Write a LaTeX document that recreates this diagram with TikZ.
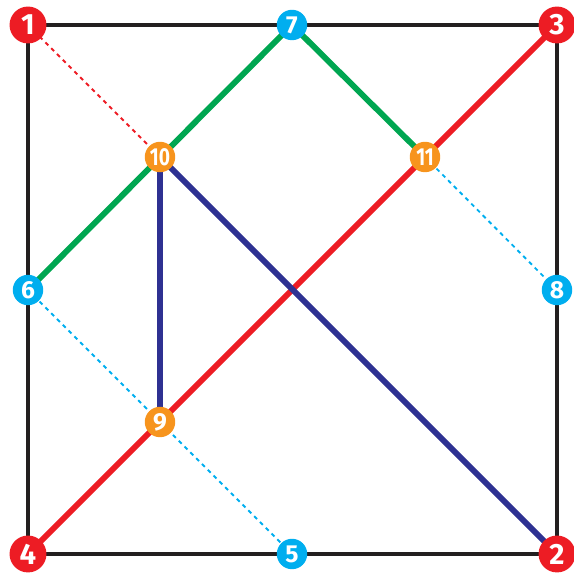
\documentclass[tikz,border=0pt]{standalone}
\usepackage{fontspec}
\setmainfont{Fira Sans}
\usepackage{xcolor}
\definecolor{ptred}{HTML}{ED1C24}
\definecolor{ptorange}{HTML}{F7941D}
\definecolor{ptcyan}{HTML}{00AEEF}
\definecolor{lngreen}{HTML}{00A651}
\definecolor{lnnavy}{HTML}{2E3192}
\definecolor{frame}{HTML}{231F20}

\begin{document}
\begin{tikzpicture}[
    x=0.03cm, y=-0.03cm,
    corner/.style={circle, fill=ptred, text=white, inner sep=0pt, minimum size=31.5pt, font=\bfseries\fontsize{25}{25}\selectfont},
    edgept/.style={circle, fill=ptcyan, text=white, inner sep=0pt, minimum size=26pt, font=\bfseries\fontsize{21}{21}\selectfont},
    innerpt/.style={circle, fill=ptorange, text=white, inner sep=0pt, minimum size=26pt, font=\bfseries\fontsize{21}{21}\selectfont},
    fold/.style={line width=5pt},
    crease/.style={line width=1.6pt, dash pattern=on 3.5pt off 3.5pt}
]
\useasboundingbox (0,0) rectangle (574,573);

% points
\coordinate (c1) at (28,25);
\coordinate (c3) at (557,25);
\coordinate (c2) at (557,554);
\coordinate (c4) at (28,554);
\coordinate (c7) at (292,25);
\coordinate (c6) at (28,290);
\coordinate (c8) at (557,290);
\coordinate (c5) at (292,554);
\coordinate (c10) at (160,157);
\coordinate (c11) at (425,157);
\coordinate (c9) at (160,422);

% square
\draw[frame, line width=2.6pt] (c1) -- (c3) -- (c2) -- (c4) -- cycle;

% dashed creases
\draw[crease, ptred] (c1) -- (c10);
\draw[crease, ptcyan] (c6) -- (c5);
\draw[crease, ptcyan] (c11) -- (c8);

% thick lines
\draw[fold, ptred] (c4) -- (c3);
\draw[fold, lngreen] (c6) -- (c7) -- (c11);
\draw[fold, lnnavy] (c9) -- (c10) -- (c2);

% labels
\node (p1) [corner] at (c1) {1};
\node (p2) [corner] at (c2) {2};
\node (p3) [corner] at (c3) {3};
\node (p4) [corner] at (c4) {4};
\node (p5) [edgept] at (c5) {5};
\node (p6) [edgept] at (c6) {6};
\node (p7) [edgept] at (c7) {7};
\node (p8) [edgept] at (c8) {8};
\node (p9) [innerpt] at (c9) {9};
\node (p10) [innerpt] at (c10) {\scalebox{0.78}[1]{10}};
\node (p11) [innerpt] at (c11) {\scalebox{0.78}[1]{11}};

\end{tikzpicture}
\end{document}
